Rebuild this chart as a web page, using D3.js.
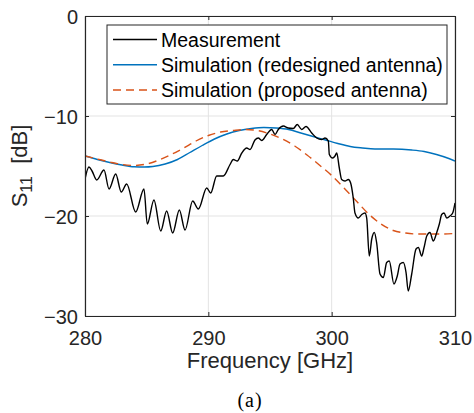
<!DOCTYPE html>
<html>
<head>
<meta charset="utf-8">
<script src="https://cdn.jsdelivr.net/npm/d3@7"></script>
<style>
  body { margin: 0; background: #fff; }
  svg { display: block; font-family: "Liberation Sans", Arial, Helvetica, sans-serif; }
</style>
</head>
<body>
<svg id="chart" width="474" height="413"></svg>
<script>
// measured S11 (GHz, dB)
const measFreq = [280.0, 280.32, 280.57, 280.95, 281.54, 281.95, 282.49, 282.94, 283.38, 284.11,
  284.78, 285.05, 285.59, 286.14, 286.62, 287.11, 287.65, 288.11, 288.73, 289.19,
  289.87, 290.19, 290.68, 291.21, 291.76, 292.02, 292.35, 292.71, 293.11, 293.38,
  293.78, 294.05, 294.33, 294.73, 295.14, 295.41, 295.67, 296.08, 296.48, 296.89,
  297.21, 297.57, 297.92, 298.38, 298.79, 299.19, 299.46, 299.73, 299.81, 300.08,
  300.27, 300.41, 300.62, 300.81, 301.08, 301.35, 301.54, 301.75, 301.89, 302.16,
  302.44, 302.70, 302.84, 303.05, 303.25, 303.46, 303.65, 303.92, 304.19, 304.46,
  304.67, 305.05, 305.32, 305.54, 305.81, 306.03, 306.21, 306.49, 306.84, 307.03,
  307.30, 307.49, 307.71, 307.97, 308.24, 308.52, 308.73, 308.92, 309.11, 309.33,
  309.59, 309.81, 310.0];
const measVal = [-16.3, -15.1, -15.5, -16.4, -15.4, -17.3, -15.8, -17.6, -16.8, -19.6,
  -17.3, -20.8, -18.4, -21.5, -19.5, -21.7, -19.4, -21.4, -18.5, -19.3,
  -17.2, -17.7, -16.0, -16.0, -14.85, -14.35, -14.5, -13.7, -13.2, -13.35,
  -12.4, -12.2, -12.45, -11.85, -11.35, -11.85, -11.35, -11.0, -11.2, -11.25,
  -10.85, -11.35, -11.05, -11.7, -12.2, -12.35, -12.2, -12.5, -13.85, -14.2,
  -14.0, -13.7, -15.2, -16.35, -16.5, -16.35, -16.7, -18.2, -19.7, -20.2,
  -19.85, -19.7, -20.2, -24.0, -22.3, -21.65, -22.7, -25.8, -26.15, -24.65,
  -24.5, -26.8, -26.0, -24.8, -24.65, -25.65, -27.5, -25.8, -23.3, -23.15,
  -24.0, -23.15, -22.0, -21.65, -22.5, -21.65, -20.8, -19.85, -19.7, -20.2,
  -20.0, -19.7, -18.7];

// simulation, redesigned antenna
const redFreq = [280, 281, 282, 283, 284, 284.8, 285.5, 286.5, 287.5, 288.5, 289.5, 290.5,
  291.5, 292.5, 293.5, 294.5, 295.5, 296.5, 297.5, 298.5, 299.5, 300.5, 301.5, 302.5,
  303.5, 305, 306.5, 307.5, 308.5, 309.5, 310];
const redVal = [-14.0, -14.35, -14.65, -14.9, -15.08, -15.1, -15.05, -14.8, -14.35, -13.65,
  -12.95, -12.3, -11.8, -11.45, -11.25, -11.15, -11.2, -11.35, -11.7, -12.05, -12.4,
  -12.75, -13.05, -13.2, -13.3, -13.3, -13.4, -13.55, -13.85, -14.25, -14.5];

// simulation, proposed antenna
const propFreq = [280, 281, 282, 283, 284, 285, 286, 287, 288, 289, 290, 291, 292, 293, 294,
  295, 296, 297, 298, 299, 300, 301, 302, 303, 304, 305, 306, 307, 308, 309, 310];
const propVal = [-14.0, -14.3, -14.6, -14.85, -14.95, -14.8, -14.4, -13.85, -13.2, -12.5,
  -11.95, -11.6, -11.45, -11.35, -11.45, -11.8, -12.3, -13.0, -13.9, -14.9, -15.95,
  -17.2, -18.5, -19.8, -20.8, -21.45, -21.7, -21.8, -21.8, -21.8, -21.75];

const xTicks = [280, 290, 300, 310];
const yTicks = [0, -10, -20, -30];
const legendLabels = ["Measurement", "Simulation (redesigned antenna)", "Simulation (proposed antenna)"];

const svg = d3.select("#chart");
const plotL = 85, plotR = 455, plotT = 16, plotB = 316;
const axisColor = "#262626";

const x = d3.scaleLinear().domain([280, 310]).range([plotL, plotR]);
const y = d3.scaleLinear().domain([-30, 0]).range([plotB, plotT]);

// grid
svg.append("g").selectAll("line").data(xTicks).enter().append("line")
  .attr("x1", d => x(d)).attr("x2", d => x(d))
  .attr("y1", plotT).attr("y2", plotB)
  .attr("stroke", "#e3e3e3").attr("stroke-width", 1);
svg.append("g").selectAll("line").data(yTicks).enter().append("line")
  .attr("x1", plotL).attr("x2", plotR)
  .attr("y1", d => y(d)).attr("y2", d => y(d))
  .attr("stroke", "#e3e3e3").attr("stroke-width", 1);

svg.append("defs").append("clipPath").attr("id", "clip")
  .append("rect").attr("x", plotL).attr("y", plotT)
  .attr("width", plotR - plotL).attr("height", plotB - plotT);

const line = d3.line()
  .x(d => x(d[0])).y(d => y(d[1]))
  .curve(d3.curveMonotoneX);

const series = [
  { f: redFreq, v: redVal, color: "#0072BD", dash: null },
  { f: propFreq, v: propVal, color: "#D95319", dash: "8,5" },
  { f: measFreq, v: measVal, color: "#000000", dash: null }
];

const plot = svg.append("g").attr("clip-path", "url(#clip)");
series.forEach(s => {
  plot.append("path")
    .datum(d3.zip(s.f, s.v))
    .attr("d", line)
    .attr("fill", "none")
    .attr("stroke", s.color)
    .attr("stroke-width", 1.4)
    .attr("stroke-dasharray", s.dash);
});

// axes (box with inward ticks)
const xAxisB = d3.axisBottom(x).tickValues(xTicks).tickSizeInner(-4).tickSizeOuter(0);
const xAxisT = d3.axisTop(x).tickValues(xTicks).tickSizeInner(-4).tickSizeOuter(0).tickFormat("");
const yAxisL = d3.axisLeft(y).tickValues(yTicks).tickSizeInner(-4).tickSizeOuter(0);
const yAxisR = d3.axisRight(y).tickValues(yTicks).tickSizeInner(-4).tickSizeOuter(0).tickFormat("");

function styleAxis(g) {
  g.select(".domain").attr("stroke", axisColor).attr("stroke-width", 1.2);
  g.selectAll(".tick line").attr("stroke", axisColor).attr("stroke-width", 1);
  g.selectAll(".tick text").attr("fill", axisColor)
    .style("font-size", "20px").style("font-family", "'Liberation Sans', Arial, sans-serif");
}

svg.append("g").attr("transform", `translate(0,${plotB})`).call(xAxisB).call(styleAxis)
  .selectAll(".tick text").attr("dy", 0).attr("y", 29);
svg.append("g").attr("transform", `translate(0,${plotT})`).call(xAxisT).call(styleAxis);
svg.append("g").attr("transform", `translate(${plotL},0)`).call(yAxisL).call(styleAxis)
  .selectAll(".tick text").attr("x", -7).attr("dy", "0.36em");
svg.append("g").attr("transform", `translate(${plotR},0)`).call(yAxisR).call(styleAxis);

// axis labels
svg.append("text")
  .attr("x", (plotL + plotR) / 2).attr("y", 368)
  .attr("text-anchor", "middle")
  .attr("fill", axisColor)
  .style("font-size", "22px")
  .text("Frequency [GHz]");

const yl = svg.append("text")
  .attr("transform", `translate(27,${(plotT + plotB) / 2}) rotate(-90)`)
  .attr("text-anchor", "middle")
  .attr("fill", axisColor)
  .style("font-size", "22px");
yl.append("tspan").text("S");
yl.append("tspan").attr("dy", 5).style("font-size", "16px").text("11");
yl.append("tspan").attr("dy", -5).text("\u00a0 [dB]");

// legend
const lg = svg.append("g");
lg.append("rect")
  .attr("x", 107).attr("y", 25).attr("width", 340).attr("height", 79)
  .attr("fill", "#fff").attr("stroke", axisColor).attr("stroke-width", 1);
const legendColors = ["#000000", "#0072BD", "#D95319"];
const legendDash = [null, null, "8,5"];
const rowY = d3.scaleLinear().domain([0, 2]).range([39.5, 90]);
legendLabels.forEach((label, i) => {
  lg.append("line")
    .attr("x1", 113).attr("x2", 157)
    .attr("y1", rowY(i)).attr("y2", rowY(i))
    .attr("stroke", legendColors[i]).attr("stroke-width", 1.4)
    .attr("stroke-dasharray", legendDash[i]);
  lg.append("text")
    .attr("x", 161).attr("y", rowY(i) + 7)
    .attr("fill", "#000")
    .style("font-size", "19.5px")
    .text(label);
});

// caption
svg.append("text")
  .attr("x", 250).attr("y", 407)
  .attr("text-anchor", "middle")
  .style("font-family", "'Liberation Serif', 'Times New Roman', serif")
  .style("font-size", "20px")
  .style("letter-spacing", "1px")
  .text("(a)");
</script>
</body>
</html>
